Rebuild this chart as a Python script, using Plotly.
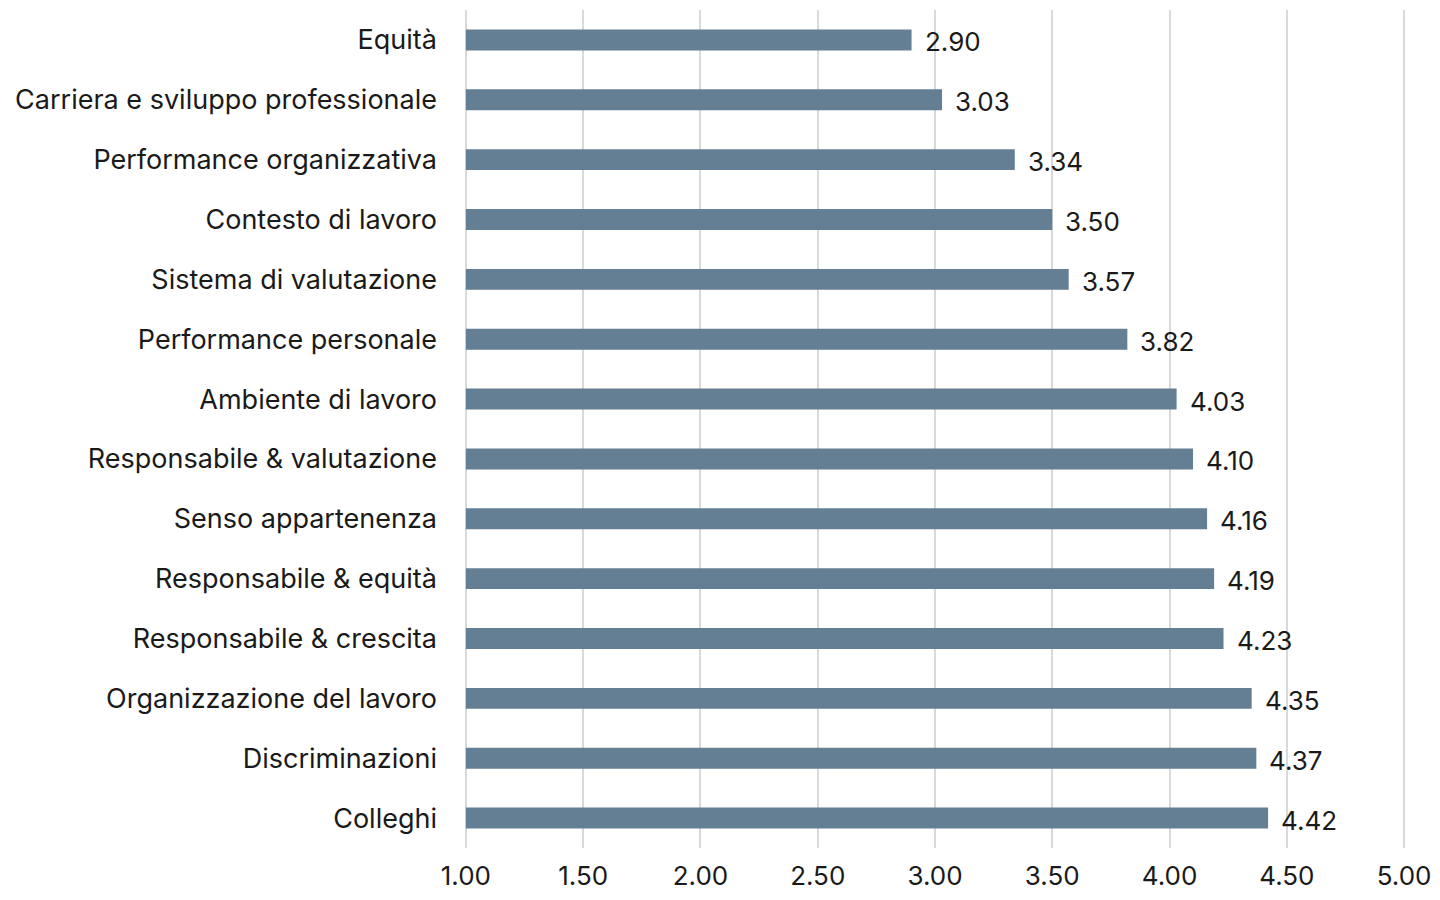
import plotly.graph_objects as go

categories = [
    "Equità",
    "Carriera e sviluppo professionale",
    "Performance organizzativa",
    "Contesto di lavoro",
    "Sistema di valutazione",
    "Performance personale",
    "Ambiente di lavoro",
    "Responsabile & valutazione",
    "Senso appartenenza",
    "Responsabile & equità",
    "Responsabile & crescita",
    "Organizzazione del lavoro",
    "Discriminazioni",
    "Colleghi",
]
values = [2.90, 3.03, 3.34, 3.50, 3.57, 3.82, 4.03, 4.10, 4.16, 4.19, 4.23, 4.35, 4.37, 4.42]
tick_vals = [1.0, 1.5, 2.0, 2.5, 3.0, 3.5, 4.0, 4.5, 5.0]
tick_text = ["1.00", "1.50", "2.00", "2.50", "3.00", "3.50", "4.00", "4.50", "5.00"]

FONT = "Inter, Liberation Sans, Arial, sans-serif"
BAR = "#647e93"
TXT = "#1a1a1a"

fig = go.Figure()
fig.add_trace(go.Bar(
    y=categories,
    x=[v - 1.0 for v in values],
    base=1.0,
    orientation="h",
    width=0.35,
    marker=dict(color=BAR, line=dict(width=0)),
    hoverinfo="skip",
))

for c, v in zip(categories, values):
    fig.add_annotation(
        x=v, y=c, text=f"{v:.2f}", showarrow=False,
        xanchor="left", yanchor="middle", xshift=11, yshift=-2,
        font=dict(family=FONT, size=26, color=TXT),
    )

# page body has an 8px default margin: compensate so the plot lands where the reference has it
fig.update_layout(
    width=1424, height=884,
    margin=dict(l=456, r=26, t=2, b=44, autoexpand=False),
    paper_bgcolor="white", plot_bgcolor="white",
    showlegend=False,
    font=dict(family=FONT, size=26, color=TXT),
    xaxis=dict(
        range=[0.992, 5.008], tickvals=tick_vals, ticktext=tick_text,
        showgrid=True, gridcolor="#d9d9d9", gridwidth=1.5,
        zeroline=False, showline=False, ticks="",
        ticklabelstandoff=10,
        ticklabeloverflow="allow",
        tickfont=dict(family=FONT, size=26, color=TXT),
    ),
    yaxis=dict(
        categoryorder="array", categoryarray=categories,
        autorange="reversed",
        showgrid=False, zeroline=False, showline=False, ticks="",
        ticklabelstandoff=26,
        tickfont=dict(family=FONT, size=27, color=TXT),
    ),
)

fig.write_html("out.html")
